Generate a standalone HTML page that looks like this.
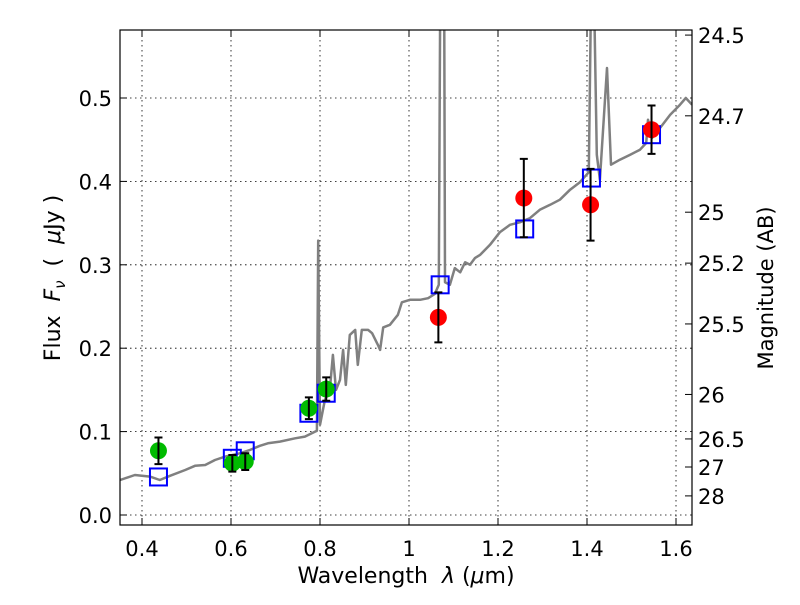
<!DOCTYPE html>
<html><head><meta charset="utf-8"><style>
body{margin:0;background:#fff;}
svg{font-family:"DejaVu Sans","Liberation Sans",sans-serif;}
</style></head><body>
<svg id="chart" width="800" height="600" viewBox="0 0 800 600" xmlns="http://www.w3.org/2000/svg">
<defs><clipPath id="clip"><rect x="120" y="30" width="572" height="495"/></clipPath></defs>
<rect x="0" y="0" width="800" height="600" fill="#fff"/>
<g id="grid"></g>
<g id="spec" clip-path="url(#clip)"></g>
<g id="marks"></g>
<rect x="120" y="30" width="572" height="495" fill="none" stroke="#000" stroke-width="1.2"/>
<g id="ticks"></g>
<text x="406" y="583" font-size="22" text-anchor="middle" xml:space="preserve">Wavelength  <tspan font-style="italic">λ</tspan> (<tspan font-style="italic">μ</tspan>m)</text>
<text transform="translate(60,278) rotate(-90)" font-size="22" text-anchor="middle" xml:space="preserve">Flux  <tspan font-style="italic">F</tspan><tspan font-style="italic" font-size="15" dy="5">ν</tspan><tspan dy="-5">  (  </tspan><tspan font-style="italic">μ</tspan>Jy )</text>
<text transform="translate(773,288) rotate(-90)" font-size="21" text-anchor="middle">Magnitude (AB)</text>
</svg>
<script>
const specLam=[0.351,0.384,0.418,0.440,0.463,0.497,0.519,0.542,0.564,0.587,0.620,0.643,0.665,0.683,0.710,0.744,0.766,0.789,0.793,0.796,0.800,0.811,0.822,0.829,0.836,0.845,0.852,0.858,0.867,0.879,0.885,0.894,0.908,0.917,0.930,0.935,0.942,0.957,0.975,0.984,1.002,1.025,1.043,1.058,1.067,1.070,1.079,1.081,1.092,1.103,1.115,1.126,1.137,1.148,1.160,1.182,1.204,1.227,1.249,1.272,1.294,1.317,1.339,1.362,1.384,1.404,1.409,1.416,1.422,1.429,1.445,1.454,1.474,1.497,1.519,1.533,1.537,1.546,1.564,1.587,1.609,1.622,1.636];
const specFlux=[0.042,0.048,0.046,0.042,0.047,0.054,0.059,0.060,0.066,0.070,0.074,0.078,0.083,0.086,0.088,0.092,0.094,0.100,0.101,0.329,0.108,0.138,0.150,0.192,0.150,0.162,0.198,0.156,0.216,0.222,0.180,0.222,0.222,0.218,0.204,0.198,0.225,0.228,0.240,0.255,0.258,0.258,0.260,0.265,0.276,0.62,0.62,0.279,0.276,0.296,0.291,0.303,0.300,0.308,0.312,0.324,0.339,0.348,0.351,0.356,0.366,0.372,0.378,0.390,0.399,0.411,0.62,0.62,0.432,0.402,0.536,0.420,0.426,0.432,0.438,0.446,0.474,0.452,0.464,0.480,0.492,0.500,0.492];
const greenLam=[0.437,0.603,0.632,0.775,0.814];
const greenFlux=[0.077,0.062,0.064,0.128,0.151];
const greenErr=[0.016,0.010,0.010,0.013,0.014];
const redLam=[1.066,1.258,1.408,1.545];
const redFlux=[0.237,0.380,0.372,0.462];
const redErr=[0.030,0.047,0.043,0.029];
const modelLam=[0.437,0.603,0.632,0.775,0.814,1.070,1.260,1.410,1.545];
const modelFlux=[0.0456,0.068,0.077,0.122,0.146,0.276,0.343,0.404,0.456];
const xTicks=[0.4,0.6,0.8,1.0,1.2,1.4,1.6];
const xTickLabels=["0.4","0.6","0.8","1","1.2","1.4","1.6"];
const yTicks=[0.0,0.1,0.2,0.3,0.4,0.5];
const yTickLabels=["0.0","0.1","0.2","0.3","0.4","0.5"];
const magTicks=[24.5,24.7,25,25.2,25.5,26,26.5,27,28];
const magTickLabels=["24.5","24.7","25","25.2","25.5","26","26.5","27","28"];

const X=l=>142+(l-0.4)*445;
const Y=f=>515-f*834;
const NS="http://www.w3.org/2000/svg";
function mk(parent,tag,attrs){const e=document.createElementNS(NS,tag);for(const k in attrs)e.setAttribute(k,attrs[k]);document.getElementById(parent).appendChild(e);return e;}

xTicks.forEach((t,i)=>{
  const g=mk('grid','line',{x1:X(t),x2:X(t),y1:30,y2:525,stroke:'#000','stroke-width':0.8,'stroke-dasharray':'1.5,3.5'});
  
  
  mk('ticks','line',{x1:X(t),x2:X(t),y1:525,y2:518,stroke:'#000'});
  mk('ticks','line',{x1:X(t),x2:X(t),y1:30,y2:37,stroke:'#000'});
  const lb=mk('ticks','text',{x:X(t),y:556,'font-size':21,'text-anchor':'middle'});
  lb.textContent=xTickLabels[i];
  
  
});
yTicks.forEach((t,i)=>{
  const g=mk('grid','line',{x1:120,x2:692,y1:Y(t),y2:Y(t),stroke:'#000','stroke-width':0.8,'stroke-dasharray':'1.5,3.5'});
  
  
  mk('ticks','line',{x1:120,x2:127,y1:Y(t),y2:Y(t),stroke:'#000'});
  const lb=mk('ticks','text',{x:112,y:Y(t)+8,'font-size':21,'text-anchor':'end'});
  lb.textContent=yTickLabels[i];
  
  
});
magTicks.forEach((m,i)=>{
  const y=Y(Math.pow(10,(23.9-m)/2.5));
  mk('ticks','line',{x1:692,x2:685,y1:y,y2:y,stroke:'#000'});
  const lb=mk('ticks','text',{x:698,y:y+8,'font-size':21,'text-anchor':'start'});
  lb.textContent=magTickLabels[i];
  
  
});

const pts=specLam.map((l,i)=>X(l).toFixed(1)+','+Y(specFlux[i]).toFixed(1)).join(' ');
const sp=mk('spec','polyline',{points:pts,fill:'none',stroke:'#808080','stroke-width':2.5,'stroke-linejoin':'round'});



modelLam.forEach((l,i)=>{
  const r=mk('marks','rect',{x:X(l)-8.5,y:Y(modelFlux[i])-8.5,width:17,height:17,fill:'none',stroke:'#0000ff','stroke-width':2});
  
  
});
function pointsWithErr(lams,fl,er,color,name){
  lams.forEach((l,i)=>{
    const c=mk('marks','circle',{cx:X(l),cy:Y(fl[i]),r:8.5,fill:color});
    
    
    const x=X(l),y1=Y(fl[i]+er[i]),y2=Y(fl[i]-er[i]);
    const e=mk('marks','path',{d:`M${x},${y1}V${y2}M${x-4},${y1}H${x+4}M${x-4},${y2}H${x+4}`,stroke:'#000','stroke-width':2,fill:'none'});
    
    
  });
}
pointsWithErr(greenLam,greenFlux,greenErr,'#00bb00','observed-point-green');
pointsWithErr(redLam,redFlux,redErr,'#ff0000','observed-point-red');
</script>
</body></html>
